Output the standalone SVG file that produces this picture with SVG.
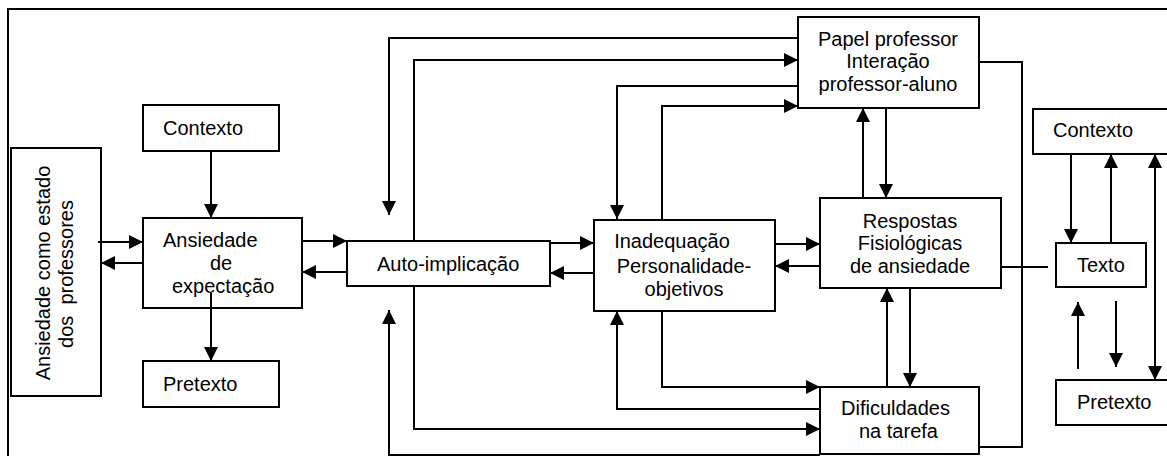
<svg xmlns="http://www.w3.org/2000/svg" width="1167" height="456" viewBox="0 0 1167 456">
<style>
.box{fill:#fff;stroke:#000;stroke-width:2}
.t{font-family:"Liberation Sans",Arial,sans-serif;font-size:20px;fill:#000}
.m{text-anchor:middle}
.c{fill:none;stroke:#000;stroke-width:2}
.a{marker-end:url(#ah)}
</style>
<defs>
<marker id="ah" viewBox="0 0 14 14" markerWidth="14" markerHeight="14" refX="14" refY="7" orient="auto-start-reverse" markerUnits="userSpaceOnUse">
<path d="M0,0 L14,7 L0,14 z" fill="#000"/>
</marker>
</defs>
<rect width="1167" height="456" fill="#fff"/>
<rect x="8" y="9" width="1300" height="600" fill="none" stroke="#000" stroke-width="2"/>
<g id="n-ansiedade-estado">
<rect class="box" x="11" y="148" width="90" height="248"/>
<text class="t m" transform="translate(50,273) rotate(-90)">Ansiedade como estado</text>
<text class="t m" transform="translate(73,274) rotate(-90)" xml:space="preserve">dos  professores</text>
</g>
<g id="n-contexto-l">
<rect class="box" x="143" y="105" width="136" height="46"/>
<text class="t" x="163" y="135">Contexto</text>
</g>
<g id="n-ansiedade-expectacao">
<rect class="box" x="143" y="218" width="159" height="90"/>
<text class="t" x="163" y="247">Ansiedade</text>
<text class="t" x="210" y="270">de</text>
<text class="t" x="172" y="293">expectação</text>
</g>
<g id="n-pretexto-l">
<rect class="box" x="143" y="361" width="136" height="46"/>
<text class="t" x="163" y="391">Pretexto</text>
</g>
<g id="n-auto">
<rect class="box" x="347" y="241" width="203" height="45"/>
<text class="t" x="377" y="271">Auto-implicação</text>
</g>
<g id="n-inadequacao">
<rect class="box" x="594" y="220" width="181" height="91"/>
<text class="t m" x="672" y="248">Inadequação</text>
<text class="t m" x="684" y="273">Personalidade-</text>
<text class="t m" x="684" y="296">objetivos</text>
</g>
<g id="n-papel">
<rect class="box" x="798" y="17" width="181" height="91"/>
<text class="t m" x="888" y="46">Papel professor</text>
<text class="t m" x="888" y="68">Interação</text>
<text class="t m" x="888" y="91">professor-aluno</text>
</g>
<g id="n-respostas">
<rect class="box" x="820" y="198" width="181" height="90"/>
<text class="t m" x="910" y="228">Respostas</text>
<text class="t m" x="910" y="250">Fisiológicas</text>
<text class="t m" x="910" y="273">de ansiedade</text>
</g>
<g id="n-dificuldades">
<rect class="box" x="820" y="387" width="159" height="67"/>
<text class="t" x="841" y="415">Dificuldades</text>
<text class="t" x="859" y="438">na tarefa</text>
</g>
<g id="n-contexto-r">
<rect class="box" x="1033" y="109" width="200" height="45"/>
<text class="t" x="1053" y="137">Contexto</text>
</g>
<g id="n-texto">
<rect class="box" x="1056" y="243" width="90" height="44"/>
<text class="t" x="1077" y="272">Texto</text>
</g>
<g id="n-pretexto-r">
<rect class="box" x="1056" y="380" width="200" height="45"/>
<text class="t" x="1077" y="409">Pretexto</text>
</g>
<g id="connectors">
<path class="c a" d="M211,151 V218"/>
<path class="c a" d="M211,293 V361"/>
<path class="c a" d="M98,242 H143"/>
<path class="c a" d="M143,263 H101"/>
<path class="c a" d="M302,241 H347"/>
<path class="c a" d="M347,272 H302"/>
<path class="c a" d="M550,243 H594"/>
<path class="c a" d="M594,273 H550"/>
<path class="c a" d="M775,244 H820"/>
<path class="c a" d="M820,266 H775"/>
<path class="c a" d="M798,38 H389 V215"/>
<path class="c a" d="M414,241 V60 H798"/>
<path class="c a" d="M798,86 H617 V219"/>
<path class="c a" d="M662,220 V106 H798"/>
<path class="c" d="M979,62 H1022 V447 H979"/>
<path class="c a" d="M863,198 V108"/>
<path class="c a" d="M886,108 V198"/>
<path class="c a" d="M887,387 V288"/>
<path class="c a" d="M910,288 V387"/>
<path class="c a" d="M662,311 V387 H820"/>
<path class="c a" d="M820,409 H617 V311"/>
<path class="c a" d="M414,286 V429 H820"/>
<path class="c a" d="M820,455 H389 V310"/>
<path class="c" d="M1002,267 H1048"/>
<path class="c a" d="M1071,154 V243"/>
<path class="c a" d="M1111,243 V154"/>
<path class="c a" d="M1078,369 V302"/>
<path class="c a" d="M1116,301 V367"/>
<path class="c a" d="M1155,154 V380" marker-start="url(#ah)"/>
</g>
</svg>
